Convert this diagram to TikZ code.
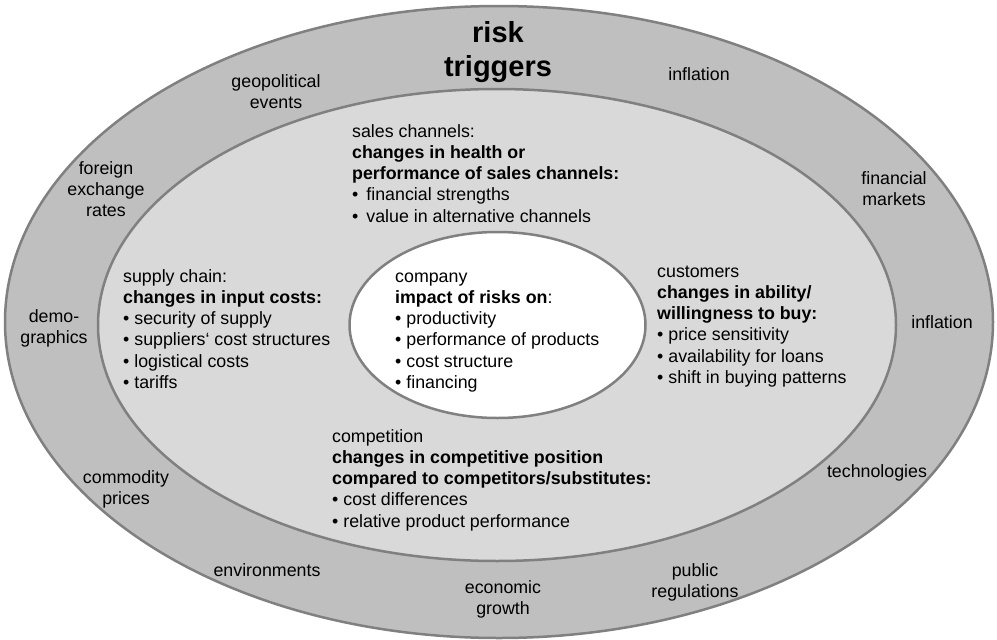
\documentclass[tikz,border=0pt]{standalone}
\usepackage{fontspec}
\setmainfont{Liberation Sans}
\definecolor{ringout}{HTML}{BFBFBF}
\definecolor{ringmid}{HTML}{D9D9D9}
\definecolor{edgegray}{HTML}{808080}
\begin{document}
\begin{tikzpicture}[x=1pt,y=-1pt,
  ring/.style={draw=edgegray, line width=2.5pt},
  txt/.style={inner sep=0pt, font=\fontsize{17.8}{21.3}\selectfont, align=left, anchor=base west},
  lbl/.style={inner sep=0pt, font=\fontsize{17.8}{21}\selectfont, align=center, anchor=base},
  titletxt/.style={inner sep=0pt, font=\fontsize{29}{34}\selectfont\bfseries, align=center, anchor=base}]
\useasboundingbox (0,0) rectangle (997,640);
\path[fill=ringout, ring] (499,322) ellipse [x radius=494pt, y radius=316pt];
\path[fill=ringmid, ring] (497,325) ellipse [x radius=399pt, y radius=236pt];
\path[fill=white, ring] (497.5,325) ellipse [x radius=148pt, y radius=93pt];

% anchor=base of a multi-line node = baseline of its last line
\node[titletxt] (title) at (498,76) {risk\\triggers};

\node[lbl] (geo) at (276,108) {geopolitical\\events};
\node[lbl] (fx) at (106,216) {foreign\\exchange\\rates};
\node[lbl] (demo) at (54,343) {demo-\\graphics};
\node[lbl] (infl1) at (699,80) {inflation};
\node[lbl] (finm) at (894,205) {financial\\markets};
\node[lbl] (infl2) at (942,328) {inflation};
\node[lbl] (comm) at (126,504) {commodity\\prices};
\node[lbl] (env) at (267,576) {environments};
\node[lbl] (econ) at (503,614) {economic\\growth};
\node[lbl] (publ) at (695,597) {public\\regulations};
\node[lbl] (tech) at (877,477) {technologies};

\node[txt] (sales) at (352,222.2) {sales channels:\\\textbf{changes in health or}\\\textbf{performance of sales channels:}\\\textbullet\hspace{8pt}financial strengths\\\textbullet\hspace{8pt}value in alternative channels};
\node[txt] (supply) at (123,388.5) {supply chain:\\\textbf{changes in input costs:}\\\textbullet\ security of supply\\\textbullet\ suppliers‘ cost structures\\\textbullet\ logistical costs\\\textbullet\ tariffs};
\node[txt] (company) at (395,388.5) {company\\\textbf{impact of risks on}:\\\textbullet\ productivity\\\textbullet\ performance of products\\\textbullet\ cost structure\\\textbullet\ financing};
\node[txt] (cust) at (657,383.5) {customers\\\textbf{changes in ability/}\\\textbf{willingness to buy:}\\\textbullet\ price sensitivity\\\textbullet\ availability for loans\\\textbullet\ shift in buying patterns};
\node[txt] (comp) at (332,527.2) {competition\\\textbf{changes in competitive position}\\\textbf{compared to competitors/substitutes:}\\\textbullet\ cost differences\\\textbullet\ relative product performance};
\end{tikzpicture}
\end{document}
